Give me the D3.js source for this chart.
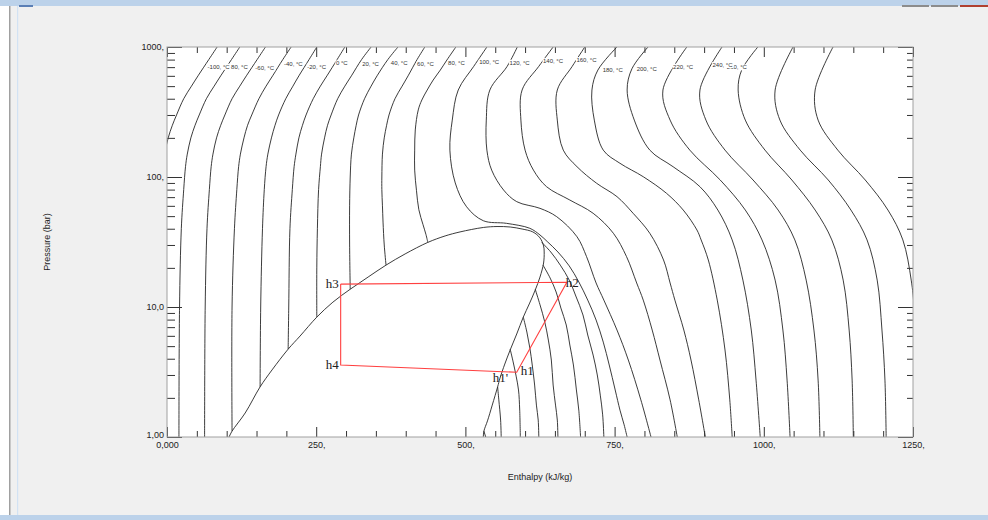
<!DOCTYPE html>
<html><head><meta charset="utf-8">
<script src="https://cdn.jsdelivr.net/npm/d3@7"></script>
<style>
html,body{margin:0;padding:0;background:#f0f0f0;}
svg{display:block;}
</style></head>
<body>
<svg id="c" width="988" height="520"></svg>
<script>
// ---------- axis ticks ----------
const hTickValues = [0, 250, 500, 750, 1000, 1250];
const hTickLabels = ["0,000", "250,", "500,", "750,", "1000,", "1250,"];
const pTickValues = [1, 10, 100, 1000];
const pTickLabels = ["1,00", "10,0", "100,", "1000,"];

// ---------- saturation dome (h kJ/kg, P bar) ----------
const domeH = [104,109,131,156,176,203,223,251,278,307,337,367,399,437,466,491,530,553,575,595,613,625,631,632,631,625,617,607,597,586,575,566,558,554,545,537,531,530];
const domeP = [1,1.11,1.53,2.43,3.28,4.74,5.98,8.36,10.9,13.7,17,21,25.6,31.4,35.2,37.8,40.9,41.6,41.25,39.8,37.8,34,29.5,26.5,21.8,17,13.5,10.55,8.36,6.2,4.67,3.64,2.84,2.43,1.76,1.33,1.11,1];

// ---------- isotherms [h, P] ----------
const isoM100 = [[-18,1],[-17,10],[-14,40],[-10,80],[-7,120],[-4,150],[2,200],[9,250],[16,300],[28,400],[41,500],[52,600],[70,800],[84,1000]];
const isoM80 = [[20,1],[21,10],[24,40],[28,80],[31,120],[34,150],[40,200],[47,250],[54,300],[66,400],[79,500],[90,600],[108,800],[122,1000]];
const isoM60 = [[63,1],[64,10],[67,40],[71,80],[74,120],[77,150],[83,200],[90,250],[97,300],[109,400],[122,500],[133,600],[151,800],[165,1000]];
const isoM40Liq = [[109,1.11],[109,10],[113,40],[117,80],[120,120],[123,150],[129,200],[135,250],[142,300],[154,400],[166,500],[177,600],[194,800],[208,1000]];
const isoM40Vap = [[531,1.11],[534,1]];
const isoM20Liq = [[156,2.43],[157,10],[160,40],[163,80],[166,120],[169,150],[175,200],[181,250],[187,300],[199,400],[211,500],[221,600],[238,800],[251,1000]];
const isoM20Vap = [[554,2.43],[556,1.93],[559,1.35],[560,1]];
const iso0Liq = [[203,4.74],[204,10],[206,40],[210,80],[213,120],[216,150],[221,200],[227,250],[233,300],[245,400],[257,500],[268,600],[285,800],[298,1000]];
const iso0Vap = [[575,4.74],[580,3.78],[585,2.94],[589,2.3],[591,1.61],[592,1]];
const iso20Liq = [[251,8.36],[251,20],[252,40],[254,80],[257,120],[259,150],[264,200],[269,250],[275,300],[286,400],[298,500],[309,600],[326,800],[342,1000]];
const iso20Vap = [[597,8.36],[603,6.42],[608,4.84],[612,3.58],[616,2.51],[619,1.76],[622,1.35],[623,1]];
const iso40Liq = [[307,13.7],[306,30],[306,60],[307,100],[309,150],[313,200],[317,250],[321,300],[331,400],[342,500],[352,600],[370,800],[387,1000]];
const iso40Vap = [[617,13.7],[625,10.4],[633,7.67],[639,5.57],[644,3.91],[647,2.51],[651,1.76],[654,1.35],[655,1]];
const iso60Liq = [[367,21],[364,30],[362,45],[361,60],[360,80],[360,100],[361,150],[364,200],[368,250],[372,300],[382,400],[394,500],[404,600],[419,800],[432,1000]];
const iso60Vap = [[630,21],[642,16.7],[652,13.05],[660,9.82],[669,7.27],[675,5.1],[681,3.58],[686,2.3],[690,1.61],[693,1]];
const iso80Liq = [[437,31.4],[434,36],[429,43],[422,56],[418,79],[415,113],[415,161],[416,230],[421,328],[427,391],[436,467],[446,557],[458,665],[469,794],[484,1000]];
const iso80Vap = [[628,31.4],[643,26.5],[659,21],[674,16.1],[685,12.15],[697,8.68],[705,6.09],[714,4.27],[721,3.0],[726,2.1],[730,1.48],[732,1]];
const iso100 = [[536,1000],[514,710],[488,467],[478,274],[474,161],[483,90],[502,59],[530,46.1],[569,44],[608,40.3],[625,35.8],[638,31.6],[655,26.5],[674,20.7],[690,15.6],[705,11.3],[719,7.94],[731,5.37],[741,3.58],[751,2.3],[759,1.61],[766,1.24],[771,1]];
const iso120 = [[587,1000],[570,710],[541,467],[535,274],[536,161],[544,113],[564,79.4],[586,64.6],[625,57.4],[653,49.5],[687,34.7],[703,24.4],[719,15.3],[732,11.3],[754,6.65],[773,3.91],[794,1.93],[811,1]];
const iso140 = [[647,1000],[623,710],[595,467],[593,274],[600,161],[614,113],[636,84.2],[675,66.5],[714,52.6],[748,36.9],[770,24.4],[787,15.3],[798,11.3],[813,6.65],[826,3.91],[843,1.93],[855,1]];
const iso160 = [[700,1000],[679,710],[654,467],[654,274],[664,161],[687,120],[720,89.4],[754,70.6],[781,52.6],[809,36.9],[832,23],[843,15.3],[851,11.3],[866,6.65],[878,3.91],[891,1.93],[902,1]];
const iso180 = [[754,1000],[722,665],[712,467],[716,274],[731,161],[759,127.5],[798,100.5],[837,74.9],[865,55.7],[888,39.1],[895,32.8],[907,23],[922,11.3],[935,4.67],[943,1.93],[947,1]];
const iso200 = [[806,1000],[779,680],[771,467],[783,274],[809,161],[848,120],[893,84.2],[923,55.7],[947,32.8],[965,16.1],[979,6.65],[987,2.74],[994,1]];
const iso220 = [[871,1000],[831,467],[843,274],[876,161],[927,94.8],[969,55.7],[997,32.8],[1019,16.1],[1032,6.65],[1039,2.74],[1044,1]];
const iso240 = [[930,1000],[893,467],[903,274],[935,161],[982,94.8],[1024,55.7],[1052,32.8],[1071,16.1],[1084,6.65],[1091,2.74],[1094,1]];
const iso260 = [[990,1000],[963,665],[957,467],[969,274],[1002,161],[1047,94.8],[1086,55.7],[1114,32.8],[1133,16.1],[1143,6.65],[1148,2.74],[1150,1]];
const iso280 = [[1049,1000],[1019,467],[1027,274],[1061,161],[1108,94.8],[1146,55.7],[1173,32.8],[1190,16.1],[1198,6.65],[1203,2.74],[1205,1]];
const iso300 = [[1116,1000],[1086,467],[1091,274],[1124,161],[1170,94.8],[1208,55.7],[1233,32.8],[1247,16.1],[1252,9.48],[1258,1]];

// ---------- isotherm labels ----------
const isoLabelText = ["-100, °C","-80, °C","-60, °C","-40, °C","-20, °C","0 °C","20, °C","40, °C","60, °C","80, °C","100, °C","120, °C","140, °C","160, °C","180, °C","200, °C","220, °C","240, °C","260, °C"];
const isoLabelH = [68,104,148,196,235,283,327,375,419,471,523,574,630,686,730,787,848,914,938];
const isoLabelP = [705,705,686,740,705,750,740,750,737,750,763,758,780,794,665,674,705,727,698];

// ---------- refrigeration cycle ----------
const cycleH = [291, 670, 586, 563, 291, 291];
const cycleP = [15.0, 15.5, 3.15, 3.18, 3.58, 15.0];
const cycleNames = ["h3", "h2", "h1", "h1'", "h4"];

// =====================================================
const svg = d3.select("#c");
const L = 167, R = 913, T = 47, B = 437;
const x = d3.scaleLinear().domain([0, 1250]).range([L, R]);
const y = d3.scaleLog().domain([1, 1000]).range([B, T]);

// window chrome
svg.append("rect").attr("x",0).attr("y",0).attr("width",988).attr("height",520).attr("fill","#f0f0f0");
svg.append("rect").attr("x",0).attr("y",0).attr("width",9).attr("height",520).attr("fill","#ffffff");
svg.append("rect").attr("x",9).attr("y",0).attr("width",1.5).attr("height",520).attr("fill","#a0a0a0");
svg.append("rect").attr("x",0).attr("y",0).attr("width",988).attr("height",6).attr("fill","#bcd2ea");
svg.append("rect").attr("x",17).attr("y",6).attr("width",1.2).attr("height",510).attr("fill","#d2e2f3");
svg.append("rect").attr("x",0).attr("y",515).attr("width",988).attr("height",5).attr("fill","#bcd2ea");
svg.append("rect").attr("x",19).attr("y",5).attr("width",14).attr("height",2).attr("fill","#5b7fb5");
svg.append("rect").attr("x",902).attr("y",5).attr("width",27).attr("height",2).attr("fill","#8c8c8c");
svg.append("rect").attr("x",931).attr("y",5).attr("width",27).attr("height",2).attr("fill","#8c8c8c");
svg.append("rect").attr("x",960).attr("y",5).attr("width",28).attr("height",2).attr("fill","#b04030");

// plot area
svg.append("rect").attr("x",L).attr("y",T).attr("width",R-L).attr("height",B-T).attr("fill","#ffffff");

svg.append("defs").append("clipPath").attr("id","clip")
  .append("rect").attr("x",L).attr("y",T).attr("width",R-L).attr("height",B-T);

const g = svg.append("g").attr("clip-path","url(#clip)");
const line = d3.line().x(d => x(d[0])).y(d => y(d[1])).curve(d3.curveCatmullRom.alpha(0.5));

const isotherms = [isoM100,isoM80,isoM60,isoM40Liq,isoM40Vap,isoM20Liq,isoM20Vap,iso0Liq,iso0Vap,
  iso20Liq,iso20Vap,iso40Liq,iso40Vap,iso60Liq,iso60Vap,iso80Liq,iso80Vap,iso100,iso120,iso140,
  iso160,iso180,iso200,iso220,iso240,iso260,iso280,iso300];
g.selectAll("path.iso").data(isotherms).join("path").attr("class","iso")
  .attr("d", line).attr("fill","none").attr("stroke","#262626").attr("stroke-width",0.9);

const dome = domeH.map((h,i) => [h, domeP[i]]);
g.append("path").attr("d", line(dome)).attr("fill","none").attr("stroke","#262626").attr("stroke-width",0.9);

// isotherm labels (drawn high->low so lower ones sit on top)
const lab = svg.append("g").attr("font-family","'Liberation Sans', Arial, sans-serif").attr("font-size","6px").attr("fill","#333");
for (let i = isoLabelText.length - 1; i >= 0; i--) {
  const gx = x(isoLabelH[i]), gy = y(isoLabelP[i]);
  const grp = lab.append("g");
  const r = grp.append("rect").attr("fill","#fff");
  const t = grp.append("text").attr("x", gx).attr("y", gy).attr("dy","0.35em").text(isoLabelText[i]);
  const bb = t.node().getBBox();
  r.attr("x", bb.x - 0.5).attr("y", bb.y).attr("width", bb.width + 1).attr("height", bb.height);
}

// cycle
const cyc = cycleH.map((h,i) => [h, cycleP[i]]);
svg.append("path").attr("d", d3.line().x(d=>x(d[0])).y(d=>y(d[1]))(cyc))
  .attr("fill","none").attr("stroke","#ff4040").attr("stroke-width",1.1);
const cl = svg.append("g").attr("font-family","'Liberation Serif','Times New Roman',serif").attr("font-size","13px").attr("fill","#222");
cl.append("text").attr("x", x(cycleH[0]) - 2).attr("y", y(cycleP[0])).attr("dy","0.33em").attr("text-anchor","end").text(cycleNames[0]);
cl.append("text").attr("x", x(cycleH[1]) - 1).attr("y", y(cycleP[1])).attr("dy","0.33em").text(cycleNames[1]);
cl.append("text").attr("x", x(cycleH[2]) + 4).attr("y", y(cycleP[2]) - 2).attr("dy","0.33em").text(cycleNames[2]);
cl.append("text").attr("x", x(cycleH[3]) + 5).attr("y", y(cycleP[3]) + 6).attr("dy","0.33em").attr("text-anchor","end").text(cycleNames[3]);
cl.append("text").attr("x", x(cycleH[4]) - 2).attr("y", y(cycleP[4])).attr("dy","0.33em").attr("text-anchor","end").text(cycleNames[4]);

// axes
const minorH = d3.range(50, 1250, 50).filter(v => v % 250 !== 0);
const minorP = [];
[1,10,100].forEach(d => { for (let k = 2; k <= 9; k++) minorP.push(k*d); });
const font = "'Liberation Sans', Arial, sans-serif";
function style(sel){ sel.select(".domain").remove(); sel.selectAll("line").attr("stroke","#333"); sel.selectAll("text").attr("fill","#222").attr("font-family",font).attr("font-size","9px"); }

svg.append("g").attr("transform",`translate(0,${B})`).call(d3.axisBottom(x).tickValues(minorH).tickSize(-6).tickFormat("")).call(style);
svg.append("g").attr("transform",`translate(0,${B})`).call(d3.axisBottom(x).tickValues(hTickValues).tickSizeInner(-10).tickSizeOuter(0).tickPadding(5).tickFormat((d,i)=>hTickLabels[i])).call(style);
svg.append("g").attr("transform",`translate(0,${T})`).call(d3.axisTop(x).tickValues(minorH).tickSize(-6).tickFormat("")).call(style);
svg.append("g").attr("transform",`translate(0,${T})`).call(d3.axisTop(x).tickValues(hTickValues).tickSize(-10).tickFormat("")).call(style);
svg.append("g").attr("transform",`translate(${L},0)`).call(d3.axisLeft(y).tickValues(minorP).tickSize(-8).tickFormat("")).call(style);
const yMaj = svg.append("g").attr("transform",`translate(${L},0)`).call(d3.axisLeft(y).tickValues(pTickValues).tickSizeInner(-15).tickSizeOuter(0).tickPadding(3).tickFormat((d,i)=>pTickLabels[i])).call(style);
yMaj.selectAll("text").filter(d => d === 1).attr("dy","0.05em");
svg.append("g").attr("transform",`translate(${R},0)`).call(d3.axisRight(y).tickValues(minorP).tickSize(-6).tickFormat("")).call(style);
svg.append("g").attr("transform",`translate(${R},0)`).call(d3.axisRight(y).tickValues(pTickValues).tickSize(-15).tickFormat("")).call(style);

// frame
svg.append("rect").attr("x",L).attr("y",T).attr("width",R-L).attr("height",B-T).attr("fill","none").attr("stroke","#a0a0a0").attr("stroke-width",1);

// axis titles
svg.append("text").attr("x",(L+R)/2).attr("y",480).attr("text-anchor","middle").attr("font-family",font).attr("font-size","9px").attr("fill","#222").text("Enthalpy (kJ/kg)");
svg.append("text").attr("transform",`translate(50,${(T+B)/2}) rotate(-90)`).attr("text-anchor","middle").attr("font-family",font).attr("font-size","9px").attr("fill","#222").text("Pressure (bar)");
</script>
</body></html>
